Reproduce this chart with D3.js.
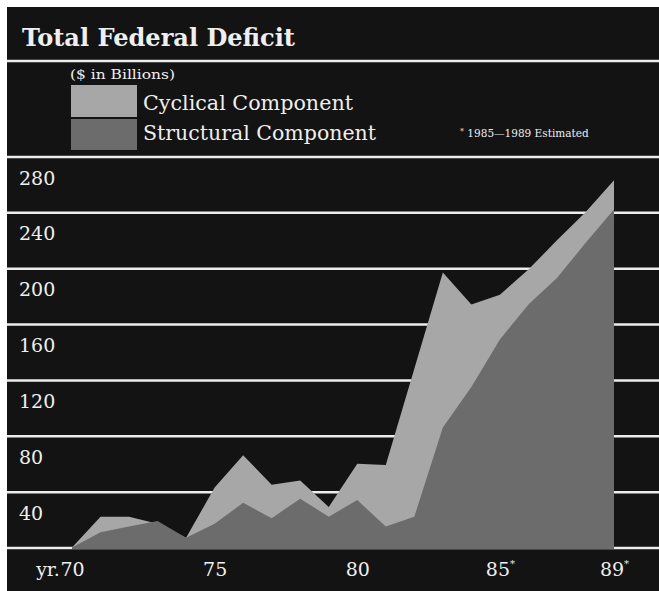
<!DOCTYPE html>
<html>
<head>
<meta charset="utf-8">
<script src="https://cdn.jsdelivr.net/npm/d3@7/dist/d3.min.js"></script>
<style>
  html, body { margin: 0; padding: 0; background: #ffffff; }
  svg { display: block; }
</style>
</head>
<body>
<script>
// Federal deficit, $ billions, split into structural and cyclical parts (1985-89 estimated)
const years = [1970, 1971, 1972, 1973, 1974, 1975, 1976, 1977, 1978, 1979,
               1980, 1981, 1982, 1983, 1984, 1985, 1986, 1987, 1988, 1989];
const structural = [0, 11, 15, 19, 7, 17, 32, 21, 35, 22,
                    34, 15, 22, 86, 115, 149, 174, 193, 218, 242];
const cyclical = [0, 11, 7, -2, 0, 26, 34, 24, 13, 7,
                  26, 44, 106, 111, 59, 32, 25, 27, 22, 21];
const yTicks = [0, 40, 80, 120, 160, 200, 240, 280];
const xTicks = [1970, 1975, 1980, 1985, 1989];
const estimatedYears = [1985, 1989];
const seriesNames = ["Cyclical Component", "Structural Component"];

const W = 659, H = 591;
const BG = "#131313", RULE = "#ececec", INK = "#efefef";
const LIGHT = "#a7a7a7", DARK = "#6c6c6c";
const SERIF = "'DejaVu Serif', 'Liberation Serif', serif";

const svg = d3.select("body").append("svg")
  .attr("width", W).attr("height", H);

svg.append("rect").attr("width", W).attr("height", H).attr("fill", "#ffffff");
svg.append("rect").attr("x", 7).attr("y", 7).attr("width", W - 7).attr("height", H - 7)
  .attr("fill", BG);

// Title band
svg.append("text")
  .attr("x", 22).attr("y", 46)
  .attr("font-family", SERIF).attr("font-weight", "bold").attr("font-size", 24)
  .attr("textLength", 273).attr("lengthAdjust", "spacingAndGlyphs")
  .attr("fill", INK)
  .text("Total Federal Deficit");
svg.append("line")
  .attr("x1", 7).attr("x2", W).attr("y1", 61).attr("y2", 61)
  .attr("stroke", RULE).attr("stroke-width", 2.5);

// Scales
const x = d3.scaleLinear().domain([1970, 1989]).range([72, 614]);
const y = d3.scaleLinear().domain([0, 280]).range([547.5, 156.5]);

// Full-width horizontal rules with their value written just below each one
const grid = svg.append("g")
  .attr("transform", "translate(7,0)")
  .call(d3.axisRight(y).tickValues(yTicks).tickSize(W - 7)
    .tickFormat(d => d === 0 ? "" : d));
grid.select(".domain").remove();
grid.selectAll(".tick line").attr("stroke", RULE).attr("stroke-width", 2.5);
grid.selectAll(".tick text")
  .attr("x", 12).attr("y", 27.5).attr("dy", 0)
  .attr("text-anchor", "start")
  .attr("font-family", SERIF).attr("font-size", 19)
  .attr("fill", INK);

// Areas: total (structural + cyclical) behind, structural in front
const rows = years.map((yr, i) => ({
  year: yr,
  structural: structural[i],
  total: structural[i] + cyclical[i]
}));

const base = y(0) + 1.5;
const totalArea = d3.area()
  .x(d => x(d.year)).y0(base).y1(d => y(d.total));
const structArea = d3.area()
  .x(d => x(d.year)).y0(base).y1(d => y(d.structural));

svg.append("path").datum(rows).attr("d", totalArea).attr("fill", LIGHT);
svg.append("path").datum(rows).attr("d", structArea).attr("fill", DARK);

// Legend
svg.append("text")
  .attr("x", 70).attr("y", 79)
  .attr("font-family", SERIF).attr("font-size", 12.5)
  .attr("textLength", 105).attr("lengthAdjust", "spacingAndGlyphs")
  .attr("fill", INK)
  .text("($ in Billions)");

const legend = svg.append("g");
const legendRows = [
  { name: seriesNames[0], fill: LIGHT, y: 85, h: 32, base: 110, len: 210 },
  { name: seriesNames[1], fill: DARK, y: 119, h: 31, base: 140, len: 233 }
];
legendRows.forEach(r => {
  legend.append("rect")
    .attr("x", 71).attr("y", r.y).attr("width", 66).attr("height", r.h)
    .attr("fill", r.fill);
  legend.append("text")
    .attr("x", 143).attr("y", r.base)
    .attr("font-family", SERIF).attr("font-size", 20)
    .attr("textLength", r.len).attr("lengthAdjust", "spacingAndGlyphs")
    .attr("fill", INK)
    .text(r.name);
});

const note = svg.append("text")
  .attr("x", 460).attr("y", 137)
  .attr("font-family", SERIF).attr("font-size", 10.5)
  .attr("fill", INK);
note.append("tspan").attr("font-size", 8).attr("dy", -3).text("*");
note.append("tspan").attr("dy", 3).text(" 1985\u20141989 Estimated");

// Year axis
const xAxis = svg.append("g")
  .attr("transform", "translate(0,576)")
  .call(d3.axisBottom(x).tickValues(xTicks).tickSize(0)
    .tickFormat(d => String(d).slice(2)));
xAxis.select(".domain").remove();
xAxis.selectAll(".tick text")
  .attr("y", 0).attr("dy", 0)
  .attr("font-family", SERIF).attr("font-size", 19)
  .attr("fill", INK)
  .each(function (d) {
    if (estimatedYears.includes(d)) {
      d3.select(this).append("tspan")
        .attr("font-size", 10).attr("dy", -9).text("*");
    }
  });

// "yr." prefix sits just left of the first year label
const firstLabel = xAxis.select(".tick text").node();
const half = firstLabel.getComputedTextLength() / 2;
svg.append("text")
  .attr("x", x(xTicks[0]) - half).attr("y", 576)
  .attr("text-anchor", "end")
  .attr("font-family", SERIF).attr("font-size", 19)
  .attr("fill", INK)
  .text("yr.");
</script>
</body>
</html>
